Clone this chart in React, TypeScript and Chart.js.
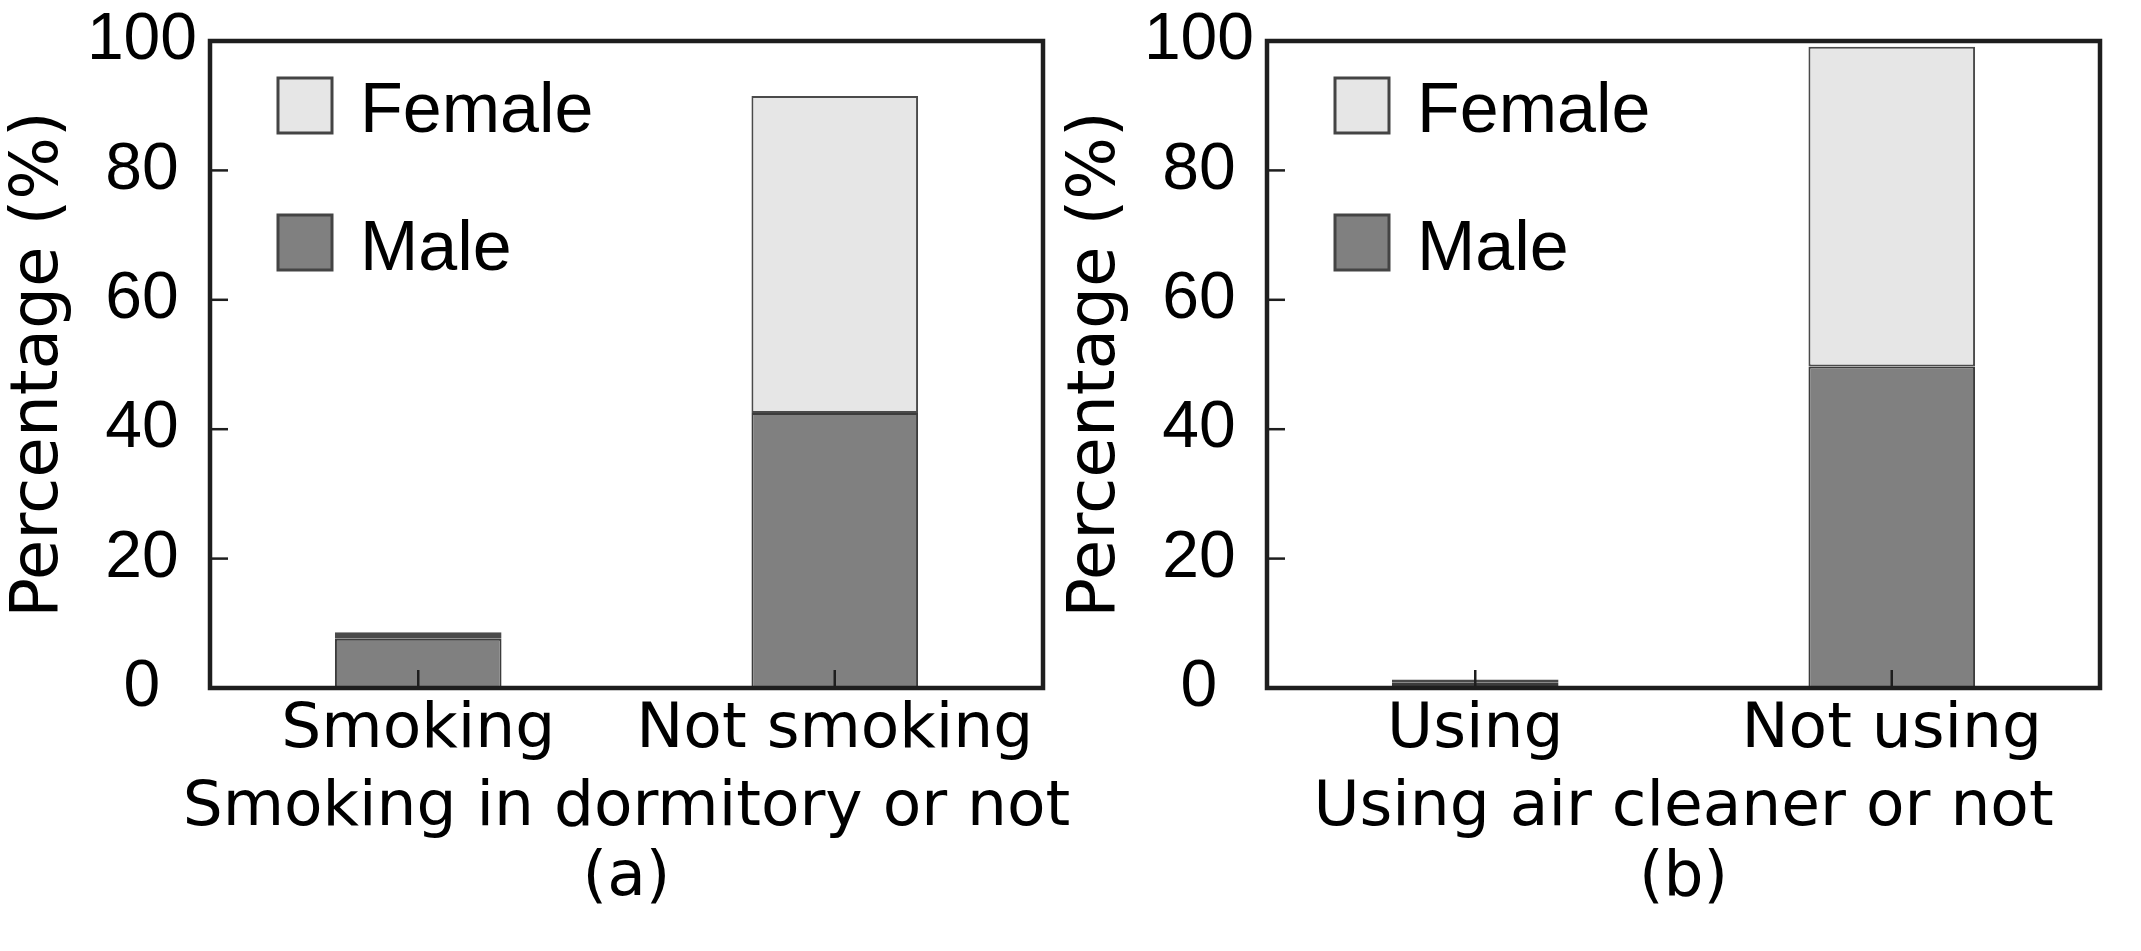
import { useEffect, useRef } from 'react';
import { Chart, registerables } from 'chart.js';
Chart.register(...registerables);

const SMOKING_CATS = ['Smoking', 'Not smoking'];
const SMOKING_MALE = [7.6, 42.5];
const SMOKING_FEMALE = [1.0, 49.0];

const CLEANER_CATS = ['Using', 'Not using'];
const CLEANER_MALE = [0.9, 49.7];
const CLEANER_FEMALE = [0.4, 49.4];

const Y_MIN = 0;
const Y_MAX = 100;
const Y_STEP = 20;

const MALE_FILL = '#808080';
const FEMALE_FILL = '#e6e6e6';
const INK = '#1e1e1e';

const SANS = 'DejaVu Sans, sans-serif';
const ARIAL = 'Liberation Sans, Arial, sans-serif';

// the original puts "100" a little right and "0" a little left of the other labels
const yLabel = (v: number) => (v === Y_MAX ? String(v) : v === Y_MIN ? `${v}  ` : `${v} `);

// frame, inward ticks, legend and the two-line x title
const decor = {
  id: 'decor',
  afterDatasetsDraw(chart: any, _args: any, opts: any) {
    const { ctx, chartArea: a, scales: { x, y } } = chart;
    ctx.save();
    ctx.strokeStyle = INK;
    ctx.lineWidth = 2.5;
    y.ticks.forEach((t: any) => {
      if (t.value <= y.min || t.value >= y.max) return;
      const py = y.getPixelForValue(t.value);
      ctx.beginPath();
      ctx.moveTo(a.left, py);
      ctx.lineTo(a.left + 18, py);
      ctx.stroke();
    });
    x.ticks.forEach((_t: any, i: number) => {
      const px = x.getPixelForTick(i);
      ctx.beginPath();
      ctx.moveTo(px, a.bottom);
      ctx.lineTo(px, a.bottom - 18);
      ctx.stroke();
    });
    ctx.lineWidth = 4.5;
    ctx.strokeRect(a.left, a.top, a.right - a.left, a.bottom - a.top);

    // legend, top item first
    const items = [...chart.data.datasets].reverse();
    ctx.font = `70px ${ARIAL}`;
    ctx.textAlign = 'left';
    ctx.textBaseline = 'alphabetic';
    items.forEach((ds: any, i: number) => {
      const top = a.top + 37 + i * 137;
      ctx.fillStyle = ds.backgroundColor;
      ctx.fillRect(a.left + 68, top, 54, 55);
      ctx.lineWidth = 3;
      ctx.strokeStyle = '#444';
      ctx.strokeRect(a.left + 68, top, 54, 55);
      ctx.fillStyle = '#000';
      ctx.fillText(ds.label, a.left + 150, a.top + 91 + i * 138);
    });

    // x title
    ctx.font = `63px ${SANS}`;
    ctx.textAlign = 'center';
    ctx.fillStyle = '#000';
    const cx = (a.left + a.right) / 2;
    (opts.lines || []).forEach((line: string, i: number) => {
      ctx.fillText(line, cx, a.bottom + 137 + i * 70);
    });
    ctx.restore();
  },
};

interface PanelProps {
  labels: string[];
  male: number[];
  female: number[];
  title: string[];
  left: number;
}

function Panel({ labels, male, female, title, left }: PanelProps) {
  const canvasRef = useRef<HTMLCanvasElement>(null);

  useEffect(() => {
    if (!canvasRef.current) return;
    // tiny segments read as solid dark bands in the original
    const edge = (c: any) => (c.raw < 3 ? 6 : 2);
    const chart = new Chart(canvasRef.current, {
      type: 'bar',
      data: {
        labels,
        datasets: [
          { label: 'Male', data: male, backgroundColor: MALE_FILL, borderColor: '#3c3c3c', borderWidth: edge, borderSkipped: false },
          { label: 'Female', data: female, backgroundColor: FEMALE_FILL, borderColor: '#4a4a4a', borderWidth: edge, borderSkipped: false },
        ],
      },
      options: {
        responsive: true,
        maintainAspectRatio: false,
        animation: false,
        layout: { padding: { top: 41, right: 27, left: 0, bottom: 0 } },
        datasets: { bar: { categoryPercentage: 0.8, barPercentage: 0.5 } },
        plugins: { legend: { display: false }, tooltip: { enabled: false }, decor: { lines: title } } as any,
        scales: {
          x: {
            stacked: true,
            grid: { display: false, drawTicks: false },
            border: { display: false },
            ticks: { color: '#000', font: { family: SANS, size: 63 }, padding: 5, maxRotation: 0 },
            afterFit: (s: any) => { s.height = 263; },
          },
          y: {
            stacked: true,
            min: Y_MIN,
            max: Y_MAX,
            grid: { display: false, drawTicks: true, tickLength: 13 },
            border: { display: false },
            ticks: { stepSize: Y_STEP, color: '#000', font: { family: ARIAL, size: 66 }, padding: 0, callback: (v: any) => yLabel(Number(v)) },
            title: { display: true, text: 'Percentage (%)', color: '#000', font: { family: SANS, size: 66 }, padding: { top: 0, bottom: 0 } },
            afterFit: (s: any) => { s.width = 210; },
          },
        },
      },
      plugins: [decor],
    });
    return () => chart.destroy();
  }, [labels, male, female, title]);

  return (
    <div style={{ position: 'absolute', left, top: 0, width: 1070, height: 951 }}>
      <canvas ref={canvasRef} />
    </div>
  );
}

const TITLE_A = ['Smoking in dormitory or not', '(a)'];
const TITLE_B = ['Using air cleaner or not', '(b)'];

export default function App() {
  return (
    <div style={{ position: 'absolute', left: 0, top: 0, width: 2141, height: 951, background: '#fff', overflow: 'hidden' }}>
      <Panel labels={SMOKING_CATS} male={SMOKING_MALE} female={SMOKING_FEMALE} title={TITLE_A} left={0} />
      <Panel labels={CLEANER_CATS} male={CLEANER_MALE} female={CLEANER_FEMALE} title={TITLE_B} left={1057} />
    </div>
  );
}
